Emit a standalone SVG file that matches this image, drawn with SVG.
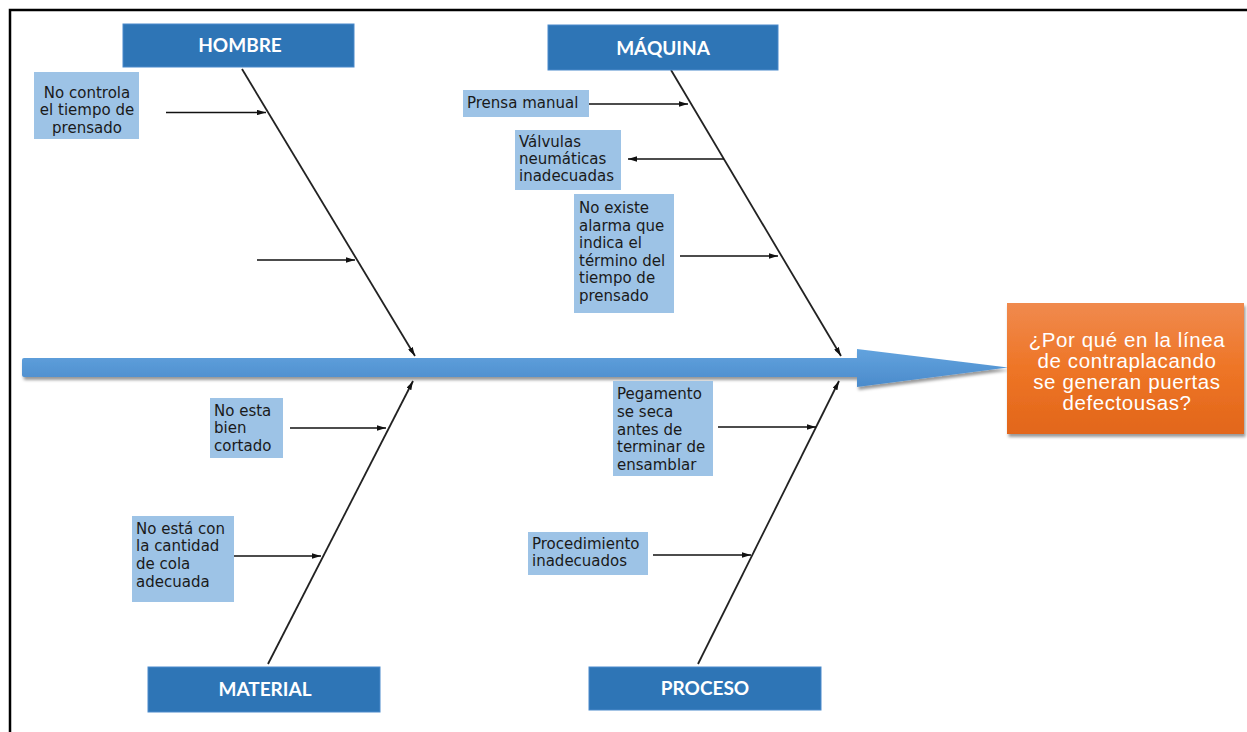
<svg xmlns="http://www.w3.org/2000/svg" width="1247" height="732" viewBox="0 0 1247 732">
  <style>
    .cat rect { fill: #2E75B6; stroke: #4A8ACB; stroke-width: 1; }
    .cat text { font-family: Lato, "Open Sans", "DejaVu Sans", sans-serif; font-weight: bold; font-size: 19px; fill: #FFFFFF; text-anchor: middle; }
    .cause rect { fill: #9DC3E6; }
    .cause text { font-family: "DejaVu Sans", "Noto Sans", sans-serif; font-size: 15px; fill: #1A1A1A; }
    .bone { stroke: #222222; stroke-width: 1.8; fill: none; marker-end: url(#tip); }
    .sub { stroke: #111111; stroke-width: 1.6; fill: none; marker-end: url(#tip); }
    .effect text { font-family: "Liberation Sans", Arial, sans-serif; font-size: 20.5px; letter-spacing: 0.6px; fill: #FFFFFF; text-anchor: middle; }
  </style>
  <defs>
    <marker id="tip" viewBox="0 0 10 6" refX="10" refY="3" markerWidth="9" markerHeight="5.4" markerUnits="userSpaceOnUse" orient="auto">
      <path d="M0,0 L10,3 L0,6 Z" fill="#111111"/>
    </marker>
    <linearGradient id="spineFill" x1="0" y1="0" x2="0" y2="1">
      <stop offset="0" stop-color="#62A3DE"/>
      <stop offset="1" stop-color="#4B8BCB"/>
    </linearGradient>
    <linearGradient id="effectFill" x1="0" y1="0" x2="0" y2="1">
      <stop offset="0" stop-color="#F08A4E"/>
      <stop offset="0.5" stop-color="#EE7526"/>
      <stop offset="1" stop-color="#E2661A"/>
    </linearGradient>
    <filter id="shade" x="-5%" y="-20%" width="112%" height="160%">
      <feDropShadow dx="1.5" dy="3" stdDeviation="1.6" flood-color="#000000" flood-opacity="0.4"/>
    </filter>
  </defs>

  <rect x="0" y="0" width="1247" height="732" fill="#FFFFFF"/>
  <!-- frame (top and left edges) -->
  <path d="M10,732 L10,10 L1247,10" fill="none" stroke="#000000" stroke-width="2.5"/>

  <!-- main spine arrow -->
  <g id="spine">
    <path d="M24,358 L857,358 L857,349 L1008,367.5 L857,387 L857,377 L24,377 Q22,377 22,375 L22,360 Q22,358 24,358 Z" fill="url(#spineFill)" filter="url(#shade)"/>
  </g>

  <!-- connectors -->
  <g id="connectors">
    <!-- category bones -->
    <line class="bone" x1="242" y1="69" x2="415" y2="356"/>
    <line class="bone" x1="671" y1="70" x2="841" y2="356"/>
    <line class="bone" x1="268" y1="664" x2="413" y2="381"/>
    <line class="bone" x1="698" y1="664" x2="839" y2="381"/>
    <!-- HOMBRE causes -->
    <line class="sub" x1="166" y1="112.5" x2="266" y2="112.5"/>
    <line class="sub" x1="257" y1="260" x2="355" y2="260"/>
    <!-- MÁQUINA causes -->
    <line class="sub" x1="589" y1="104" x2="688" y2="104"/>
    <line class="sub" x1="724" y1="159" x2="628" y2="159"/>
    <line class="sub" x1="680" y1="256" x2="778" y2="256"/>
    <!-- MATERIAL causes -->
    <line class="sub" x1="290" y1="428" x2="386" y2="428"/>
    <line class="sub" x1="234" y1="556" x2="321" y2="556"/>
    <!-- PROCESO causes -->
    <line class="sub" x1="718" y1="427" x2="816" y2="427"/>
    <line class="sub" x1="653" y1="555" x2="751" y2="555"/>
  </g>

  <!-- categories -->
  <g id="cat-hombre" class="cat">
    <rect x="123" y="24" width="231" height="43"/>
    <text x="240" y="52">HOMBRE</text>
  </g>
  <g id="cat-maquina" class="cat">
    <rect x="548" y="25" width="230" height="45"/>
    <text x="663" y="55">MÁQUINA</text>
  </g>
  <g id="cat-material" class="cat">
    <rect x="148" y="667" width="232" height="45"/>
    <text x="265" y="696">MATERIAL</text>
  </g>
  <g id="cat-proceso" class="cat">
    <rect x="589" y="667" width="232" height="43"/>
    <text x="705" y="695">PROCESO</text>
  </g>

  <!-- causes -->
  <g id="cause-tiempo" class="cause">
    <rect x="34" y="72" width="105" height="67"/>
    <text x="87" y="97.5" text-anchor="middle">No controla</text>
    <text x="87" y="115" text-anchor="middle">el tiempo de</text>
    <text x="87" y="132.5" text-anchor="middle">prensado</text>
  </g>
  <g id="cause-prensa" class="cause">
    <rect x="463" y="90" width="126" height="27"/>
    <text x="467" y="108.3">Prensa manual</text>
  </g>
  <g id="cause-valvulas" class="cause">
    <rect x="515" y="130" width="106" height="60"/>
    <text x="519" y="146.7">Válvulas</text>
    <text x="519" y="163.5">neumáticas</text>
    <text x="519" y="181">inadecuadas</text>
  </g>
  <g id="cause-alarma" class="cause">
    <rect x="574" y="194" width="100" height="119"/>
    <text x="579" y="213">No existe</text>
    <text x="579" y="230.5">alarma que</text>
    <text x="579" y="248">indica el</text>
    <text x="579" y="265.5">término del</text>
    <text x="579" y="283">tiempo de</text>
    <text x="579" y="300.5">prensado</text>
  </g>
  <g id="cause-corte" class="cause">
    <rect x="210" y="398" width="73" height="60"/>
    <text x="214" y="415.7">No esta</text>
    <text x="214" y="433">bien</text>
    <text x="214" y="450.7">cortado</text>
  </g>
  <g id="cause-cola" class="cause">
    <rect x="132" y="516" width="102" height="86"/>
    <text x="136" y="533.7">No está con</text>
    <text x="136" y="551.3">la cantidad</text>
    <text x="136" y="569">de cola</text>
    <text x="136" y="586.7">adecuada</text>
  </g>
  <g id="cause-pegamento" class="cause">
    <rect x="613" y="381" width="100" height="95"/>
    <text x="617" y="399">Pegamento</text>
    <text x="617" y="416.8">se seca</text>
    <text x="617" y="434.5">antes de</text>
    <text x="617" y="452.3">terminar de</text>
    <text x="617" y="470">ensamblar</text>
  </g>
  <g id="cause-procedimiento" class="cause">
    <rect x="528" y="532" width="120" height="43"/>
    <text x="532" y="548.7">Procedimiento</text>
    <text x="532" y="565.5">inadecuados</text>
  </g>

  <!-- effect -->
  <g id="effect" class="effect">
    <rect x="1007" y="303" width="237" height="131" fill="url(#effectFill)" filter="url(#shade)"/>
    <text x="1127" y="347">¿Por qué en la línea</text>
    <text x="1127" y="368">de contraplacando</text>
    <text x="1127" y="389">se generan puertas</text>
    <text x="1127" y="410">defectousas?</text>
  </g>
</svg>
